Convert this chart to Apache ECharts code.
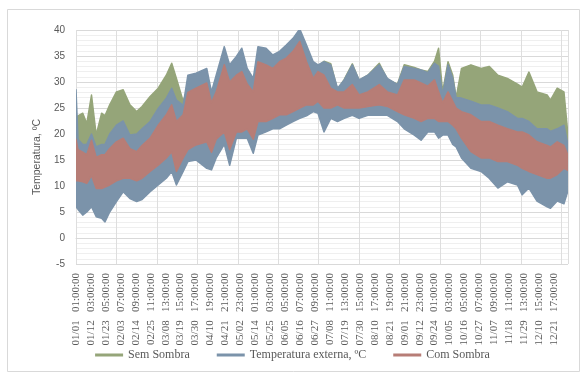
<!DOCTYPE html>
<html>
<head>
<meta charset="utf-8">
<script src="https://cdn.jsdelivr.net/npm/echarts@6/dist/echarts.min.js"></script>
<style>
  html, body { margin: 0; padding: 0; background: #ffffff; }
  #chart { width: 585px; height: 376px; }
</style>
</head>
<body>
<div id="chart"></div>
<script>
// Dia do ano (fração de dia) de cada ponto dos envelopes diários de temperatura
const dias = [0, 1.5, 5, 8, 11.5, 15, 19, 21.5, 25, 30, 35, 40, 45, 49, 55, 61, 67, 71, 74.5, 79.5,
  83, 89, 97, 100.5, 104, 110, 114, 119, 123, 127, 131.5, 135, 141, 146, 151, 156, 161, 166, 171, 176,
  179.5, 184, 189, 194, 199, 205, 210, 216.5, 225, 231, 238.5, 243.5, 251, 256, 261, 266, 269, 272, 276, 279.5,
  282, 286, 293, 300.5, 306.5, 313, 320, 327.5, 331, 336, 342, 349.5, 352, 357, 362, 364.9];

// Sem Sombra: máximas e mínimas (ºC)
const semSombraMax = [23, 23.5, 24, 22, 27.5, 19.8, 24, 23.5, 25.6, 28.1, 28.5, 25.6, 24.3, 25.3, 27.2, 28.8, 31.3, 33.6, 30.7, 26.3,
  29, 30.5, 31.5, 27, 30, 35.5, 32, 33.5, 35, 31.5, 29.5, 35.5, 35.5, 34, 35, 36, 37.5, 39.5, 36.5, 33.5,
  33, 34, 33.5, 28.5, 30.5, 33.5, 30.3, 31.3, 33.6, 30.5, 29.6, 33.3, 32.8, 32.3, 32, 34, 36.5, 28.1, 33.9, 31.3,
  27, 32.6, 33.3, 32.6, 33, 31.3, 30.7, 29.6, 29, 31.9, 28.1, 27.5, 26.5, 28.8, 28.1, 20];
const semSombraMin = [12, 12, 12, 12, 13, 11, 11, 11, 12, 13, 14, 13, 13, 13, 14, 15, 17, 18, 15, 17,
  18, 19, 19, 18, 20, 21.5, 19, 22, 22, 22, 21, 23, 23, 24, 24.5, 24.5, 25, 25.5, 26, 26,
  26.5, 26, 26, 26, 26, 26, 26, 26, 26.5, 26, 25.5, 25, 24.5, 24, 24.5, 24.5, 24, 24, 24, 23.5,
  22.5, 21, 20, 19.5, 19.5, 19, 18.5, 18, 18, 17.5, 17, 16.5, 16, 16.5, 16.5, 15];

// Temperatura externa: máximas e mínimas (ºC)
const externaMax = [28.5, 19, 18, 18, 20, 17.5, 18, 18, 20, 21.7, 22.5, 19.8, 20, 21, 22.4, 24.9, 26.9, 28.8, 26.5, 25.5,
  31.3, 31.7, 32.6, 28.1, 31.3, 36.8, 33.3, 34.9, 36.5, 32.6, 30.7, 36.8, 36.5, 35.2, 35.9, 37.1, 38.4, 40.2, 37.1, 33.9,
  33.3, 33.9, 33.3, 28.8, 30.4, 33.3, 30.4, 31.3, 33.3, 30.7, 29.5, 33, 32.6, 32.3, 31.8, 33.6, 33, 27.5, 33.3, 30.7,
  27, 26.9, 26.3, 25.6, 25.6, 25, 24.3, 23, 23, 22.4, 21, 21, 20.5, 21, 21.7, 18];
const externaMin = [6, 5.5, 4.4, 5, 6, 4.1, 3.8, 3.1, 5, 7, 8.9, 7.6, 7, 7.4, 8.9, 10.2, 11.5, 12.8, 10.2, 12.8,
  14.7, 15, 13.4, 13.1, 15.4, 18, 14, 19.2, 19.2, 19.2, 16.3, 19.8, 20.4, 21, 21, 21.7, 22.4, 23, 23.5, 24.3,
  24, 20.4, 23, 22.4, 23, 23.6, 23, 23.6, 23.6, 23.6, 22.4, 21, 19.8, 18.8, 20.4, 20.4, 19.2, 19.8, 19.8, 18,
  17.5, 15.4, 13.4, 12.8, 11.5, 9.6, 10.8, 10.2, 8.3, 9.6, 7.1, 6, 5.7, 7.1, 6.6, 9];

// Com Sombra: máximas e mínimas (ºC)
const comSombraMax = [19, 17, 16.5, 16, 18.8, 15.5, 16, 16, 17.2, 18.5, 19.2, 17.2, 16.6, 17.8, 19.2, 21.7, 23.7, 25.6, 22.4, 23.7,
  28, 28.8, 29.8, 26, 28.1, 33.3, 30, 31.3, 32, 29.6, 28.1, 33.9, 33.3, 32.6, 33.9, 34.6, 35.9, 37.8, 33.9, 30.7,
  32, 31.3, 28.8, 28.1, 28.1, 29.5, 27.5, 28.1, 29.5, 28.1, 27.5, 30.4, 30.4, 29.8, 29.2, 30.4, 28.1, 26, 28.1, 26.3,
  25, 24.3, 23.7, 22.4, 22.4, 21.7, 21, 20.4, 20.4, 19.8, 18.5, 17.8, 17.5, 18.5, 17.8, 16];
const comSombraMin = [11, 11, 10.8, 10.5, 12, 9.5, 9.5, 9.8, 10.2, 11, 11.5, 11.5, 11, 11.5, 12.8, 14, 15.4, 16.6, 12.8, 15.4,
  17, 17.9, 18.5, 16.5, 19, 20.4, 17, 20.4, 20.4, 21, 19, 22.4, 22.4, 23, 23.7, 23.7, 24.3, 25, 25.6, 25.6,
  26.3, 25, 25, 25.6, 25, 25, 25, 25.3, 25.6, 25.3, 24.3, 23.7, 23, 22.4, 23, 23, 22.4, 22.4, 22.4, 21.7,
  21, 19.2, 16.6, 15.4, 15.4, 14.7, 14.7, 14, 13.4, 12.8, 12.2, 11.5, 11.5, 12.2, 13.4, 13];

// Rótulos do eixo horizontal (um a cada 266 horas a partir de 01/01 01:00)
const rotulosX = ['01/01 01:00:00', '01/12 03:00:00', '01/23 05:00:00', '02/03 07:00:00', '02/14 09:00:00',
  '02/25 11:00:00', '03/08 13:00:00', '03/19 15:00:00', '03/30 17:00:00', '04/10 19:00:00', '04/21 21:00:00',
  '05/02 23:00:00', '05/14 01:00:00', '05/25 03:00:00', '06/05 05:00:00', '06/16 07:00:00', '06/27 09:00:00',
  '07/08 11:00:00', '07/19 13:00:00', '07/30 15:00:00', '08/10 17:00:00', '08/21 19:00:00', '09/01 21:00:00',
  '09/12 23:00:00', '09/24 01:00:00', '10/05 03:00:00', '10/16 05:00:00', '10/27 07:00:00', '11/07 09:00:00',
  '11/18 11:00:00', '11/29 13:00:00', '12/10 15:00:00', '12/21 17:00:00'];

const passoRotulo = 266;   // horas entre rótulos
const passoGrade = 720;    // horas entre linhas verticais da grade
const horasAno = 8760;

const series = [
  { nome: 'Sem Sombra', cor: '#95a579', max: semSombraMax, min: semSombraMin },
  { nome: 'Temperatura externa, ºC', cor: '#7b93aa', max: externaMax, min: externaMin },
  { nome: 'Com Sombra', cor: '#b77d76', max: comSombraMax, min: comSombraMin }
];

// Cada faixa é um polígono: máximas da esquerda para a direita, mínimas de volta
function faixa(s) {
  return function (params, api) {
    if (params.dataIndex !== 0) return null;   // um único polígono por série
    const pts = [];
    for (let i = 0; i < dias.length; i++) pts.push(api.coord([dias[i] * 24, s.max[i]]));
    for (let i = dias.length - 1; i >= 0; i--) pts.push(api.coord([dias[i] * 24, s.min[i]]));
    return {
      type: 'polygon',
      shape: { points: pts },
      style: { fill: s.cor, stroke: s.cor, lineWidth: 1.5, lineJoin: 'round' }
    };
  };
}

const serieOpts = series.map(s => ({
  name: s.nome,
  type: 'custom',
  color: s.cor,
  clip: true,
  renderItem: faixa(s),
  encode: { x: 0, y: 1 },
  data: dias.map((d, i) => [d * 24, s.max[i], s.min[i]])
}));

const chart = echarts.init(document.getElementById('chart'), null, { renderer: 'canvas' });
chart.setOption({
  animation: false,
  backgroundColor: '#ffffff',
  graphic: [{
    type: 'rect',
    shape: { x: 7.5, y: 9.5, width: 572, height: 362 },
    style: { fill: 'none', stroke: '#d9d9d9', lineWidth: 1 },
    z: -10
  }],
  grid: { left: 76, right: 17, top: 30, bottom: 112, containLabel: false },
  legend: {
    data: series.map(s => s.nome),
    bottom: 10,
    left: 'center',
    icon: 'rect',
    itemWidth: 28,
    itemHeight: 3,
    itemGap: 27,
    textStyle: { fontFamily: 'Liberation Serif', fontSize: 12, color: '#595959' }
  },
  xAxis: [{
    type: 'value',
    min: 0,
    max: horasAno,
    interval: passoRotulo,
    axisLine: { show: true, onZero: true, lineStyle: { color: '#d9d9d9' } },
    axisTick: { show: false },
    splitLine: { show: false },
    axisLabel: {
      rotate: 90,
      margin: 9,
      fontFamily: 'Liberation Serif',
      fontSize: 11,
      color: '#595959',
      showMaxLabel: false,
      formatter: v => {
        const i = v / passoRotulo;
        return Number.isInteger(i) && rotulosX[i] ? rotulosX[i].replace(' ', '   ') : '';
      }
    }
  }, {
    type: 'value',
    min: 0,
    max: horasAno,
    interval: passoGrade,
    position: 'bottom',
    axisLine: { show: false },
    axisTick: { show: false },
    axisLabel: { show: false },
    splitLine: { show: true, lineStyle: { color: '#dedede', width: 1 } }
  }],
  yAxis: {
    type: 'value',
    min: -5,
    max: 40,
    interval: 5,
    name: 'Temperatura, ºC',
    nameLocation: 'middle',
    nameGap: 33,
    nameTextStyle: { fontFamily: 'Liberation Sans', fontSize: 10.5, color: '#595959', padding: [0, 20, 0, 0] },
    axisLine: { show: false },
    axisTick: { show: false },
    axisLabel: { margin: 11, fontFamily: 'Liberation Sans', fontSize: 10, color: '#595959' },
    splitLine: { lineStyle: { color: '#d9d9d9' } },
    minorTick: { show: false, splitNumber: 5 },
    minorSplitLine: { show: true, lineStyle: { color: '#efefef' } }
  },
  series: serieOpts
});
</script>
</body>
</html>
